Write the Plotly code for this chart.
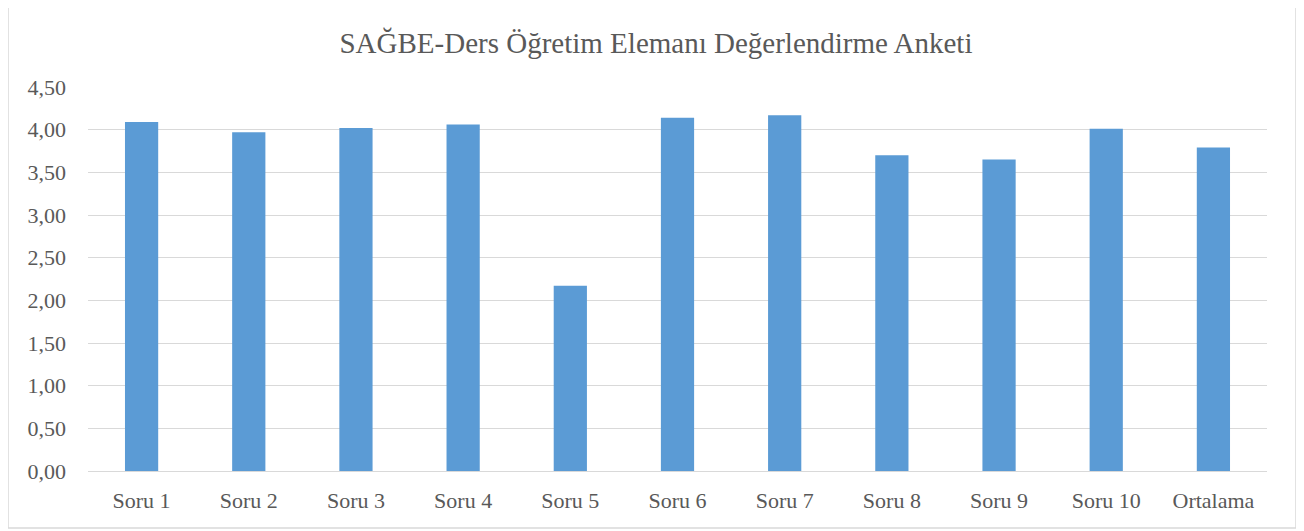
import plotly.graph_objects as go

categories = ["Soru 1", "Soru 2", "Soru 3", "Soru 4", "Soru 5", "Soru 6",
              "Soru 7", "Soru 8", "Soru 9", "Soru 10", "Ortalama"]
values = [4.09, 3.97, 4.02, 4.06, 2.17, 4.14, 4.17, 3.70, 3.65, 4.01, 3.79]
title_text = "SAĞBE-Ders Öğretim Elemanı Değerlendirme Anketi"

# page has an 8px body margin; figure is laid out relative to that
OFF = 8
W, H = 1304 - OFF, 531 - OFF
ml, mr, mt, mb = 88 - OFF, 37, 87 - OFF, 60
pw, ph = W - ml - mr, H - mt - mb

def px(x):
    return (x - OFF - ml) / pw

def py(y):
    return (H - mb - (y - OFF)) / ph

fig = go.Figure(go.Bar(
    x=categories, y=values,
    marker=dict(color="#5b9bd5", line=dict(width=0)),
))

fig.update_layout(
    width=W, height=H,
    margin=dict(l=ml, r=mr, t=mt, b=mb),
    paper_bgcolor="white", plot_bgcolor="white",
    separators=", ",
    bargap=0.69,
    showlegend=False,
    font=dict(family="Liberation Serif, Times New Roman, serif", color="#595959"),
    title=dict(text=title_text, x=0.5, xanchor="center", y=1 - (43 - OFF) / H, yanchor="middle",
               font=dict(size=29, color="#595959")),
    xaxis=dict(showgrid=False, tickfont=dict(size=22), ticks="", showline=False,
               ticklabelstandoff=14),
    yaxis=dict(range=[0, 4.5], dtick=0.5, tickformat=".2f", showgrid=True,
               gridcolor="#d9d9d9", gridwidth=1, zeroline=True, zerolinecolor="#d9d9d9",
               zerolinewidth=1, tickfont=dict(size=22), ticks="", showline=False,
               ticklabelstandoff=21),
    shapes=[dict(type="rect", xref="paper", yref="paper",
                 x0=px(8), x1=px(1296), y0=py(528), y1=py(-20),
                 line=dict(color="#d9d9d9", width=1.5), layer="below")],
)

fig.write_html("out.html")
